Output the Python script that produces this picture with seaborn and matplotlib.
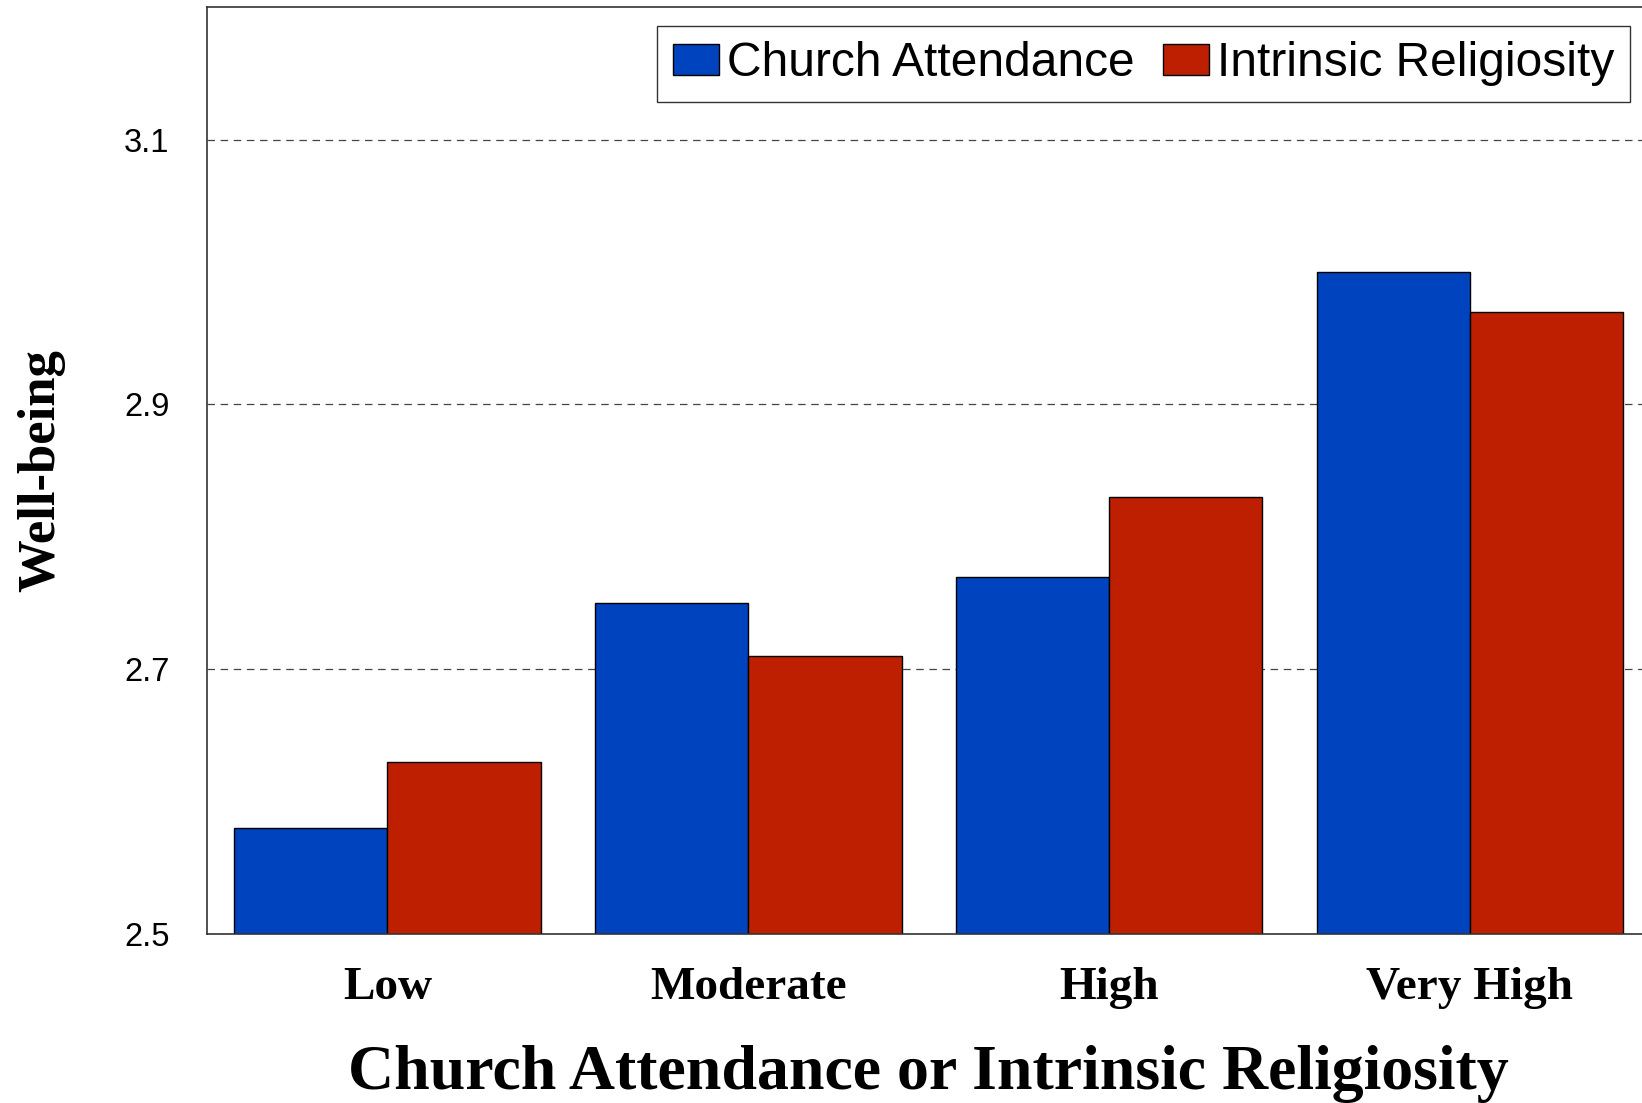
import pandas as pd
import matplotlib
matplotlib.use("Agg")
import matplotlib.pyplot as plt
import seaborn as sns

levels = ["Low", "Moderate", "High", "Very High"]
church_attendance = [2.58, 2.75, 2.77, 3.00]
intrinsic_religiosity = [2.63, 2.71, 2.83, 2.97]
series_names = ["Church Attendance", "Intrinsic Religiosity"]
yticks = [2.5, 2.7, 2.9, 3.1]

df = pd.DataFrame({
    "level": levels * 2,
    "wellbeing": church_attendance + intrinsic_religiosity,
    "measure": [series_names[0]] * 4 + [series_names[1]] * 4,
})

sns.set_style("white")
plt.rcParams["font.family"] = ["Liberation Sans", "DejaVu Sans"]
plt.rcParams["text.color"] = "black"
plt.rcParams["axes.labelcolor"] = "black"
plt.rcParams["xtick.color"] = "black"
plt.rcParams["ytick.color"] = "black"

fig = plt.figure(figsize=(16.42, 11.03), dpi=100)
ax = fig.add_axes([0.1261, 0.1532, 0.879, 0.8402])

sns.barplot(
    data=df, x="level", y="wellbeing", hue="measure",
    order=levels, hue_order=series_names,
    palette=["#0043BF", "#BE1F00"], width=0.85,
    edgecolor="black", linewidth=1.0, saturation=1, ax=ax,
)

ax.set_ylim(2.5, 3.2)
ax.set_xlim(-0.5, 3.5)
ax.set_yticks(yticks)
ax.set_yticklabels([f"{v:.1f}" for v in yticks], fontsize=23.5)
ax.tick_params(axis="y", length=0, pad=27)
ax.tick_params(axis="x", length=0, pad=24)
for lab in ax.get_xticklabels():
    lab.set_fontfamily("Liberation Serif")
    lab.set_fontweight("bold")
    lab.set_fontsize(34)

ax.set_axisbelow(True)
ax.yaxis.grid(True, linestyle=(0, (6, 4.5)), color="#444444", linewidth=0.9)

for side in ["left", "top", "bottom", "right"]:
    ax.spines[side].set_color("#333333")
    ax.spines[side].set_linewidth(1.2)

ax.set_xlabel("Church Attendance or Intrinsic Religiosity", fontsize=46,
              fontfamily="Liberation Serif", fontweight="bold", labelpad=26)
ax.set_ylabel("Well-being", fontsize=38, fontfamily="Liberation Serif",
              fontweight="bold", labelpad=42)

ax.legend_.remove()
handles, labels = ax.get_legend_handles_labels()
leg = fig.legend(
    handles, labels, ncol=2, loc="upper right",
    bbox_to_anchor=(1630 / 1642, 1 - 26 / 1103), borderaxespad=0,
    fontsize=34.5, frameon=True, fancybox=False, edgecolor="black",
    handlelength=0.96, handleheight=0.65, handletextpad=0.17,
    columnspacing=0.6, borderpad=0.32,
)
leg.get_frame().set_linewidth(1.0)

fig.savefig("out.png", dpi=100)
